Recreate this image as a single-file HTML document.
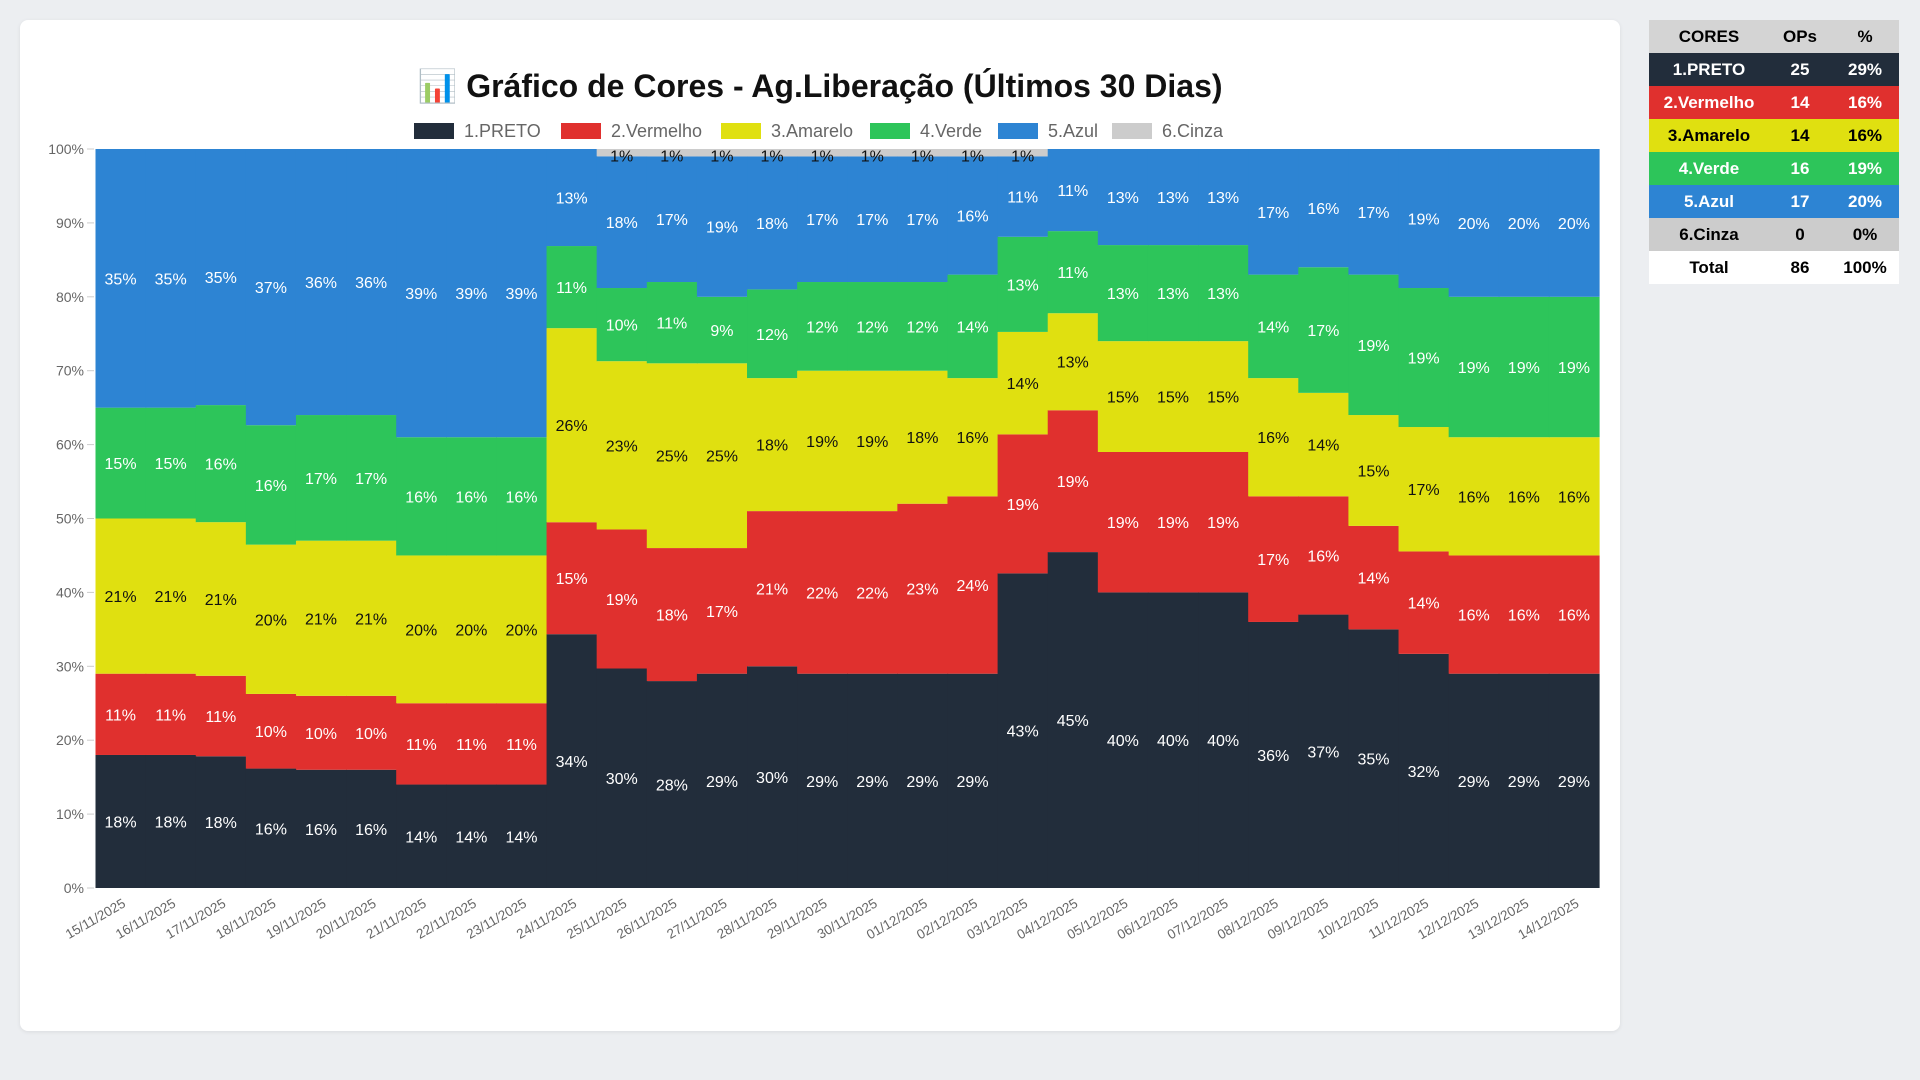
<!DOCTYPE html>
<html><head><meta charset="utf-8"><style>
body{margin:0;width:1920px;height:1080px;background:#eceef1;font-family:"Liberation Sans",sans-serif;overflow:hidden;position:relative}
#card{position:absolute;left:20px;top:20px;width:1600px;height:1011px;background:#fff;border-radius:8px;box-shadow:0 1px 4px rgba(0,0,0,.08)}
table{position:absolute;left:1649px;top:20px;width:250px;border-collapse:collapse;font-weight:bold;font-size:17px;text-align:center;table-layout:fixed}
td{height:33px;padding:0}
</style></head><body>
<div id="card"></div>
<svg id="chart" width="1920" height="1080" style="position:absolute;left:0;top:0"></svg>
<table>
<colgroup><col style="width:120px"><col style="width:62px"><col style="width:68px"></colgroup>
<tr style="background:#d4d4d4;color:#000"><td>CORES</td><td>OPs</td><td>%</td></tr>
<tr style="background:#222d3b;color:#fff"><td>1.PRETO</td><td>25</td><td>29%</td></tr>
<tr style="background:#e0302e;color:#fff"><td>2.Vermelho</td><td>14</td><td>16%</td></tr>
<tr style="background:#e0e010;color:#000"><td>3.Amarelo</td><td>14</td><td>16%</td></tr>
<tr style="background:#2dc55a;color:#fff"><td>4.Verde</td><td>16</td><td>19%</td></tr>
<tr style="background:#2d84d3;color:#fff"><td>5.Azul</td><td>17</td><td>20%</td></tr>
<tr style="background:#cccccc;color:#000"><td>6.Cinza</td><td>0</td><td>0%</td></tr>
<tr style="background:#fff;color:#000"><td>Total</td><td>86</td><td>100%</td></tr>
</table>
<script>
const dates=["15/11/2025","16/11/2025","17/11/2025","18/11/2025","19/11/2025","20/11/2025","21/11/2025","22/11/2025","23/11/2025","24/11/2025","25/11/2025","26/11/2025","27/11/2025","28/11/2025","29/11/2025","30/11/2025","01/12/2025","02/12/2025","03/12/2025","04/12/2025","05/12/2025","06/12/2025","07/12/2025","08/12/2025","09/12/2025","10/12/2025","11/12/2025","12/12/2025","13/12/2025","14/12/2025"];
const preto=[18,18,18,16,16,16,14,14,14,34,30,28,29,30,29,29,29,29,43,45,40,40,40,36,37,35,32,29,29,29];
const vermelho=[11,11,11,10,10,10,11,11,11,15,19,18,17,21,22,22,23,24,19,19,19,19,19,17,16,14,14,16,16,16];
const amarelo=[21,21,21,20,21,21,20,20,20,26,23,25,25,18,19,19,18,16,14,13,15,15,15,16,14,15,17,16,16,16];
const verde=[15,15,16,16,17,17,16,16,16,11,10,11,9,12,12,12,12,14,13,11,13,13,13,14,17,19,19,19,19,19];
const azul=[35,35,35,37,36,36,39,39,39,13,18,17,19,18,17,17,17,16,11,11,13,13,13,17,16,17,19,20,20,20];
const cinza=[0,0,0,0,0,0,0,0,0,0,1,1,1,1,1,1,1,1,1,0,0,0,0,0,0,0,0,0,0,0];
const yTicks=[0,10,20,30,40,50,60,70,80,90,100];
const seriesNames=["1.PRETO","2.Vermelho","3.Amarelo","4.Verde","5.Azul","6.Cinza"];
const series=[preto,vermelho,amarelo,verde,azul,cinza];
const colors=["#222d3b","#e0302e","#e0e010","#2dc55a","#2d84d3","#cccccc"];
const textCols=["#fff","#fff","#111","#fff","#fff","#111"];
const keys=["preto","vermelho","amarelo","verde","azul","cinza"];
const L=95.5,R=1599,T=149,B=888;
const NS="http://www.w3.org/2000/svg";
const svg=document.getElementById('chart');
function mk(tag,attrs,parent){const e=document.createElementNS(NS,tag);for(const k in attrs)e.setAttribute(k,attrs[k]);(parent||svg).appendChild(e);return e;}
const colW=(R-L)/dates.length;
const xs=i=>L+i*colW;
const ys=v=>B-(v/100)*(B-T);
let t=mk('text',{x:820,y:97,'text-anchor':'middle','font-size':32,'font-weight':'bold',fill:'#111'});
t.textContent="📊 Gráfico de Cores - Ag.Liberação (Últimos 30 Dias)";


const legW=[147,160,149,128,114,110];let lx=414;
seriesNames.forEach((n,i)=>{
 const g=mk('g',{});
 
 
 mk('rect',{x:lx,y:123,width:40,height:16,fill:colors[i]},g);
 const tx=mk('text',{x:lx+50,y:137,'font-size':18,fill:'#666'},g);tx.textContent=n;
 lx+=legW[i];
});
yTicks.forEach(v=>{
 const tx=mk('text',{x:84,y:ys(v)+5,'text-anchor':'end','font-size':14,fill:'#666'});
 tx.textContent=v+'%';
 
 
 mk('line',{x1:87,x2:94,y1:ys(v),y2:ys(v),stroke:'#ccc'});
});
dates.forEach((d,i)=>{
 const tot=series.reduce((s,a)=>s+a[i],0);
 let acc=0;
 series.forEach((a,k)=>{
  const v=a[i];if(v<=0)return;
  const y0=ys(acc/tot*100),y1=ys((acc+v)/tot*100);
  const r=mk('rect',{x:xs(i),y:y1,width:colW+0.6,height:y0-y1,fill:colors[k]});
  
  
  acc+=v;
 });
});
dates.forEach((d,i)=>{
 const tot=series.reduce((s,a)=>s+a[i],0);
 let acc=0;
 series.forEach((a,k)=>{
  const v=a[i];if(v<=0)return;
  const ym=ys((acc+v/2)/tot*100);
  const tx=mk('text',{x:xs(i)+colW/2,y:ym+(k==5?9:6),'text-anchor':'middle','font-size':16,fill:textCols[k]});
  tx.textContent=v+'%';
  
  
  acc+=v;
 });
 const cx=xs(i)+colW/2+6;
 const xl=mk('text',{x:cx,y:906,'text-anchor':'end','font-size':13.5,fill:'#666',transform:`rotate(-30 ${cx} 906)`});
 xl.textContent=d;
 
 
});
</script>
</body></html>
